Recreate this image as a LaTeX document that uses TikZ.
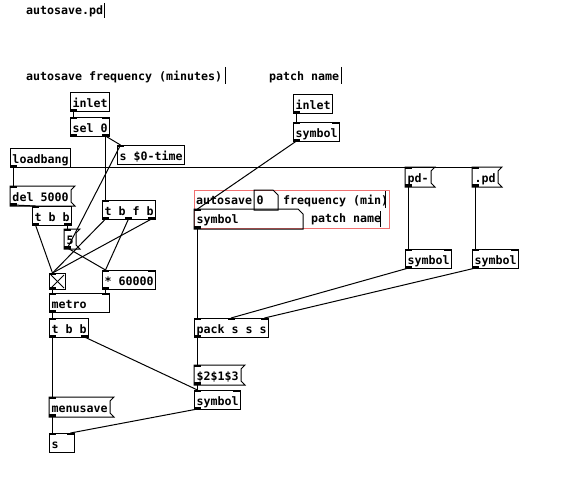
\documentclass[tikz,border=0pt]{standalone}
\usepackage{fontspec}
\newfontfamily\pdmono{DejaVu Sans Mono}
\usetikzlibrary{calc}
\definecolor{gopred}{RGB}{240,112,112}
\newcommand\pdfnt{\pdmono\bfseries\fontsize{11.63}{14}\selectfont}
\tikzset{
 pdline/.style={line width=1pt, black},
 pdcon/.style={line width=1pt, black},
 pdbase/.style={anchor=north west, minimum height=19pt, inner xsep=2pt, inner ysep=0pt,
   text height=11.5pt, text depth=0.5pt, font=\pdfnt, line width=1pt},
 pdobj/.style={pdbase, draw},
 pdmsg/.style={pdbase},
 pdatom/.style={pdbase, text height=10.5pt, text depth=1.5pt},
 pdcomment/.style={anchor=base west, inner sep=0pt, font=\pdfnt},
}
% ports: name, x, y, w, h, nin, nout
\newcommand\pdports[7]{%
  \ifnum#6>0
    \foreach \k in {1,...,#6}{%
      \ifnum#6=1 \def\px{#2}\else\pgfmathsetmacro\px{#2+(#4-7)*(\k-1)/(#6-1)}\fi
      \fill[black] (\px,#3-0.5) rectangle (\px+7,#3+2);
      \coordinate (#1-i\k) at (\px+3.5,#3);
    }%
  \fi
  \ifnum#7>0
    \foreach \k in {1,...,#7}{%
      \ifnum#7=1 \def\px{#2}\else\pgfmathsetmacro\px{#2+(#4-7)*(\k-1)/(#7-1)}\fi
      \fill[black] (\px,#3+#5-2) rectangle (\px+7,#3+#5+0.5);
      \coordinate (#1-o\k) at (\px+3.5,#3+#5);
    }%
  \fi
}
% style, name, x, y, w, nin, nout, text
\newcommand\pdbox[8]{%
  \pgfmathsetmacro\tw{#5-4}%
  \node[#1] (#2) at (#3,#4) {\makebox[\tw pt][l]{#8}};
  \pdports{#2}{#3}{#4}{#5}{19}{#6}{#7}%
}
\newcommand\msgflag[1]{%
  \draw[pdline] (#1.north west) -- ([xshift=4pt]#1.north east) -- ([yshift=-4pt]#1.north east)
    -- ([yshift=4pt]#1.south east) -- ([xshift=4pt]#1.south east) -- (#1.south west) -- cycle;}
\newcommand\atomshape[1]{%
  \draw[pdline] (#1.north west) -- ([xshift=-5pt]#1.north east) -- ([yshift=-5pt]#1.north east)
    -- (#1.south east) -- (#1.south west) -- cycle;}

\begin{document}
\begin{tikzpicture}[x=1pt,y=-1pt]
\fill[white] (0,0) rectangle (564,484);
\useasboundingbox (0,0) rectangle (564,484);

% comments
\node[pdcomment] (c1) at (26,15) {autosave.pd};
\draw[pdline] (104,3) -- (104,18);
\node[pdcomment] (c2) at (26,81) {autosave frequency (minutes)};
\draw[pdline] (225,67) -- (225,84);
\node[pdcomment] (c3) at (269,81) {patch name};
\draw[pdline] (341,67) -- (341,84);

% left column
\pdbox{pdobj}{inl1}{70}{92}{39}{0}{1}{inlet}
\pdbox{pdobj}{sel}{70}{117}{39}{2}{2}{sel 0}
\pdbox{pdobj}{stime}{117}{145}{67}{1}{0}{s \$0-time}
\pdbox{pdobj}{lb}{10}{148}{60}{0}{1}{loadbang}
\pdbox{pdmsg}{del}{10}{186}{60}{1}{1}{del 5000}
\msgflag{del}
\pdbox{pdobj}{tbb}{32}{206}{39}{1}{2}{t b b}
\pdbox{pdmsg}{five}{64}{229}{11}{1}{1}{5}
\msgflag{five}
\pdbox{pdobj}{tbfb}{102}{200}{53}{1}{3}{t b f b}
\node[draw, line width=1pt, anchor=north west, minimum width=16pt, minimum height=16pt, inner sep=0pt] (tgl) at (49,273) {};
\draw[line width=0.8pt] ([shift={(2,2)}]tgl.north west) -- ([shift={(-2,-2)}]tgl.south east);
\draw[line width=0.8pt] ([shift={(-2,2)}]tgl.north east) -- ([shift={(2,-2)}]tgl.south west);
\pdports{tgl}{49}{273}{16}{16}{1}{1}
\pdbox{pdobj}{mul}{102}{270}{53}{2}{1}{* 60000}
\pdbox{pdobj}{metro}{49}{293}{60}{2}{1}{metro}
\pdbox{pdobj}{tbb2}{49}{318}{39}{1}{2}{t b b}
\pdbox{pdmsg}{menu}{49}{397}{60}{1}{1}{menusave}
\msgflag{menu}
\pdbox{pdobj}{sobj}{49}{433}{25}{2}{0}{s}

% right part
\pdbox{pdobj}{inl2}{293}{94}{39}{0}{1}{inlet}
\pdbox{pdobj}{sym2}{293}{122}{46}{2}{1}{symbol}
\pdbox{pdmsg}{pdm}{405}{167}{25}{1}{1}{pd-}
\msgflag{pdm}
\pdbox{pdmsg}{pdd}{472}{167}{25}{1}{1}{.pd}
\msgflag{pdd}
\pdbox{pdobj}{symA}{405}{249}{46}{2}{1}{symbol}
\pdbox{pdobj}{symB}{472}{249}{46}{2}{1}{symbol}
\pdbox{pdobj}{pack}{194}{318}{74}{3}{1}{pack s s s}
\pdbox{pdmsg}{dol}{194}{365}{46}{1}{1}{\$2\$1\$3}
\msgflag{dol}
\pdbox{pdobj}{sym3}{194}{390}{46}{2}{1}{symbol}

% graph on parent area
\node[draw=gopred, line width=1pt, anchor=north west, minimum width=195pt, minimum height=38pt, inner sep=0pt] (gop) at (194,190) {};
\node[pdcomment] (gc1) at (196,204.5) {autosave};
\node[pdatom] (gnum) at (254,190) {\makebox[19pt][l]{0}};
\atomshape{gnum}
\node[pdcomment] (gc2) at (283,204.5) {frequency (min)};
\draw[pdline] (385,191) -- (385,208);
\node[pdatom] (gsym) at (194,209) {\makebox[104pt][l]{symbol}};
\atomshape{gsym}
\pdports{gsym}{194}{209}{108}{19}{1}{1}
\node[pdcomment] (gc3) at (311,222.5) {patch name};
\draw[pdline] (380,211) -- (380,227);

% connections
\draw[pdcon] (inl1-o1) -- (sel-i1);
\draw[pdcon] (sel-o2) -- (stime-i1);
\draw[pdcon] (sel-o2) -- (tbfb-i1);
\draw[pdcon] (lb-o1) -- (del-i1);
\draw[pdcon] (lb-o1) -- (pdm-i1);
\draw[pdcon] (lb-o1) -- (pdd-i1);
\draw[pdcon] (del-o1) -- (tbb-i1);
\draw[pdcon] (tbb-o1) -- (tgl-i1);
\draw[pdcon] (tbb-o2) -- (five-i1);
\draw[pdcon] (five-o1) -- (stime-i1);
\draw[pdcon] (five-o1) -- (mul-i1);
\draw[pdcon] (tbfb-o1) -- (tgl-i1);
\draw[pdcon] (tbfb-o2) -- (mul-i1);
\draw[pdcon] (tbfb-o3) -- (tgl-i1);
\draw[pdcon] (tgl-o1) -- (metro-i1);
\draw[pdcon] (mul-o1) -- (metro-i2);
\draw[pdcon] (metro-o1) -- (tbb2-i1);
\draw[pdcon] (tbb2-o1) -- (menu-i1);
\draw[pdcon] (tbb2-o2) -- (sym3-i1);
\draw[pdcon] (menu-o1) -- (sobj-i1);
\draw[pdcon] (sym3-o1) -- (sobj-i2);
\draw[pdcon] (inl2-o1) -- (sym2-i1);
\draw[pdcon] (sym2-o1) -- (gsym-i1);
\draw[pdcon] (gsym-o1) -- (pack-i1);
\draw[pdcon] (pdm-o1) -- (symA-i1);
\draw[pdcon] (pdd-o1) -- (symB-i1);
\draw[pdcon] (symA-o1) -- (pack-i2);
\draw[pdcon] (symB-o1) -- (pack-i3);
\draw[pdcon] (pack-o1) -- (dol-i1);
\draw[pdcon] (dol-o1) -- (sym3-i1);
\end{tikzpicture}
\end{document}
